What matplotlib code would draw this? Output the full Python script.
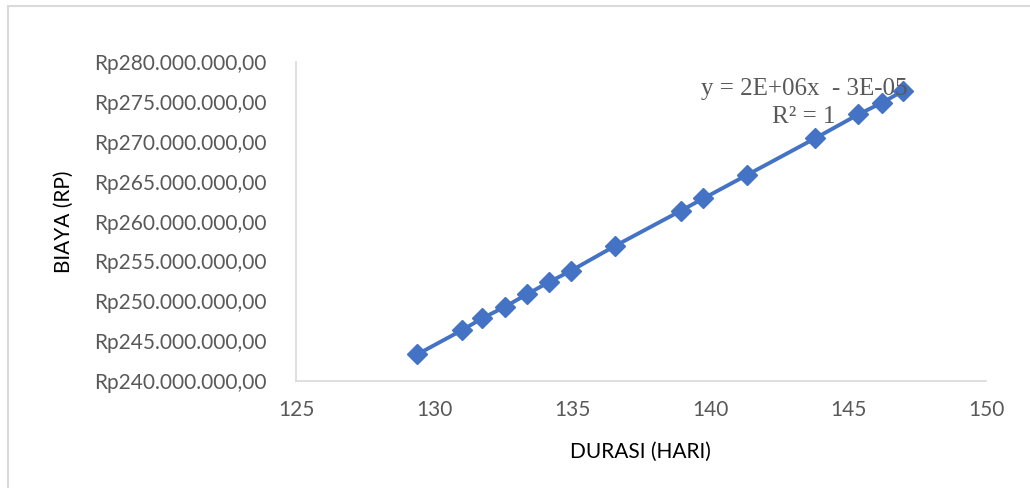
import matplotlib.pyplot as plt
from matplotlib.patches import Rectangle
from matplotlib.ticker import FuncFormatter

# durasi (hari) vs biaya (Rp)
durasi = [129.4, 131.0, 131.75, 132.57, 133.36, 134.15, 134.96, 136.55,
          138.94, 139.76, 141.33, 143.8, 145.37, 146.22, 147.0]
biaya = [243.35e6, 246.35e6, 247.86e6, 249.31e6, 250.86e6, 252.37e6, 253.82e6, 256.92e6,
         261.34e6, 262.89e6, 265.81e6, 270.41e6, 273.42e6, 274.87e6, 276.38e6]

x_ticks = [125, 130, 135, 140, 145, 150]
y_ticks = [240e6, 245e6, 250e6, 255e6, 260e6, 265e6, 270e6, 275e6, 280e6]

plt.rcParams['font.family'] = ['Lato', 'DejaVu Sans']

fig = plt.figure(figsize=(10.30, 4.88), dpi=100)
ax = fig.add_axes([296/1030, 1 - 381/488, 690/1030, 319/488])

# outer chart frame
fig.patches.append(Rectangle((8/1030, -0.1), 1.1, 1 - 6/488 + 0.1,
                             transform=fig.transFigure, fill=False,
                             edgecolor='#d9d9d9', linewidth=1.5))

blue = '#4472C4'
ax.plot(durasi, biaya, color=blue, linewidth=2.8, marker='D', markersize=10,
        markerfacecolor=blue, markeredgecolor=blue)

ax.set_xlim(125, 150)
ax.set_ylim(240e6, 280e6)
ax.set_xticks(x_ticks)
ax.set_yticks(y_ticks)


def rupiah(v, pos):
    s = f"{int(round(v)):,}".replace(',', '.')
    return f"Rp{s},00"


ax.yaxis.set_major_formatter(FuncFormatter(rupiah))
for s in ['top', 'right']:
    ax.spines[s].set_visible(False)
for s in ['left', 'bottom']:
    ax.spines[s].set_color('#d9d9d9')
    ax.spines[s].set_linewidth(1.2)
ax.tick_params(length=0, labelsize=15, colors='#595959')
ax.tick_params(axis='y', pad=21)
ax.tick_params(axis='x', pad=14)

fig.text(640/1030, 1 - 452/488, 'DURASI (HARI)', ha='center', va='center',
         fontsize=15, color='black')
fig.text(64/1030, 1 - 222/488, 'BIAYA (RP)', ha='center', va='center',
         rotation=90, fontsize=15, color='black')

# trendline equation
fig.text(804/1030, 1 - 103/488, 'y = 2E+06x  - 3E-05\nR² = 1', ha='center', va='center',
         family='Liberation Serif', fontsize=18, color='#595959', linespacing=1.3)

fig.savefig('out.png', dpi=100)
